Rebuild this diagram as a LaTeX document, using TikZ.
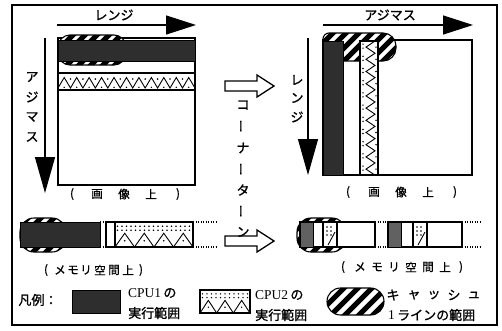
\documentclass[tikz,border=0pt]{standalone}
\usepackage{fontspec}
\setmainfont{Liberation Serif}
\newfontfamily\jp{Noto Sans CJK JP}[FakeBold=1.2]
\usetikzlibrary{arrows.meta}
\newcommand\jpf{\fontsize{13}{14}\selectfont\jp}
\newcommand\jps{\fontsize{11.5}{12}\selectfont\jp}
\newcommand\latf{\fontsize{13.5}{14}\selectfont\rmfamily}

\tikzset{
  frame/.style={line width=1.3pt},
  outline/.style={draw=black, line width=1.1pt},
  cpuone/.style={fill=black!82, draw=black, line width=1pt},
  cpuonelite/.style={fill=black!62, draw=black, line width=1pt},
  axisarrow/.style={line width=1.3pt, -{Triangle[length=30pt,width=19pt]}},
  axisarrowv/.style={line width=1.3pt, -{Triangle[length=36pt,width=20pt]}},
  hollow/.style={draw, line width=1.3pt, fill=white},
  jl/.style={font=\jpf, inner sep=0pt},
  js/.style={font=\jps, inner sep=0pt},
  dotline/.style={line width=1.2pt, dash pattern=on 1.3pt off 1.2pt},
  zz/.style={line width=0.9pt},
  stripe/.style={line width=5pt},
}

% cache line oval: options, path, c-start, c-next, c-end
\newcommand\cacheoval[5]{%
  \begin{scope}
    \clip[#1] #2;
    \fill[white] (-10,-10) rectangle (520,340);
    \foreach \c in {#3,#4,...,#5} \draw[stripe] (\c,0) -- ++(-340,340);
  \end{scope}
  \draw[#1, line width=1.1pt] #2;
}

% CPU2 block (horizontal): x0,y0,x1,y1,npeaks
\newcommand\cputwoblock[5]{%
  \draw[outline, fill=white] (#1,#2) rectangle (#3,#4);
  \pgfmathsetmacro\pp{(#3-#1)/#5}
  \pgfmathsetmacro\hh{#4-#2}
  \pgfmathtruncatemacro\nd{(#3-#1-5)/4.5}
  \foreach \k in {1,...,#5} {
    \draw[zz] ({#1+(\k-1)*\pp},#4) -- ({#1+(\k-0.5)*\pp},{#2+0.45*\hh}) -- ({#1+\k*\pp},#4);
    \fill ({#1+(\k-1)*\pp+0.5*\pp},{#2+0.75*\hh}) circle (0.8);
  }
  \foreach \r in {0.17,0.33} \foreach \j in {0,...,\nd}
    \fill ({#1+2.5+\j*4.5},{#2+\r*\hh}) circle (0.8);
}

\begin{document}
\begin{tikzpicture}[x=1pt,y=-1pt]
\useasboundingbox (0,0) rectangle (502,330);
\draw[frame] (12,5) rectangle (497,325);

% ---------------- left image ----------------
\draw[outline, fill=white] (58,38) rectangle (195,185);
\cacheoval{rounded corners=12pt}{(58,35) rectangle (126,65)}{60}{72}{220}
\draw[cpuone] (58,40) rectangle (195,61);
% CPU2 band
\draw[outline, fill=white] (58,73) rectangle (195,90);
\draw[zz] (58,88) \foreach \k in {0,...,10} { -- ({58+(\k+0.5)*12.45},77.5) -- ({58+(\k+1)*12.45},88)};
\foreach \k in {1,...,10} \fill ({58+\k*12.45},79) circle (0.9);
\foreach \k in {0,...,10} \fill ({58+(\k+0.5)*12.45},87.3) circle (0.8);

\coordinate (lh0) at (57,25);  \coordinate (lh1) at (196,25);
\draw[axisarrow] (lh0) -- (lh1);
\coordinate (lv0) at (45,38);  \coordinate (lv1) at (45,193);
\draw[axisarrowv] (lv0) -- (lv1);
\node[jl] (lrange) at (114,15) {レンジ};
\foreach \py/\ch [count=\i] in {77/ア,97/ジ,117/マ,137/ス}
  \node[jl] (laz\i) at (32,\py) {\ch};
\foreach \px/\ch [count=\i] in {72/(,97/画,124/像,151/上,178/)}
  \node[js] (lgz\i) at (\px,194) {\ch};

% ---------------- right image ----------------
\draw[outline, fill=white] (323,40) rectangle (472,175);
\cacheoval{}{(323,61) [rounded corners=6pt] -- (323,33) [rounded corners=13pt] -- (396,33) -- (396,61) [sharp corners] -- cycle}{340}{353}{480}
\draw[cpuone] (323,41) rectangle (343,175);
\draw[outline, fill=white] (360,41) rectangle (378,175);
\draw[zz] (375,41) \foreach \k in {0,...,10} { -- (366,{41+(\k+0.5)*12.2}) -- (375,{41+(\k+1)*12.2})};
\foreach \k in {0,...,10} {
  \fill (363,{41+(\k+0.5)*12.2-3}) circle (0.8);
  \fill (363,{41+(\k+0.5)*12.2+1}) circle (0.8);
  \fill (376,{41+(\k+0.5)*12.2}) circle (0.8);
}

\coordinate (rh0) at (323,25); \coordinate (rh1) at (473,25);
\draw[axisarrow] (rh0) -- (rh1);
\coordinate (rv0) at (308,38); \coordinate (rv1) at (308,175);
\draw[axisarrowv] (rv0) -- (rv1);
\node[jl] (raz) at (390,15) {アジマス};
\foreach \py/\ch [count=\i] in {80/レ,98/ン,117/ジ}
  \node[jl] (rrg\i) at (297,\py) {\ch};
\foreach \px/\ch [count=\i] in {348/(,374/画,401/像,428/上,455/)}
  \node[js] (rgz\i) at (\px,192) {\ch};

% ---------------- left memory bar ----------------
\cacheoval{rounded corners=14pt}{(20,218) rectangle (66,252)}{220}{233}{340}
\draw[cpuone] (20,222) rectangle (100,247);
\draw[dotline] (100,222) -- (106,222);
\draw[dotline] (100,247) -- (106,247);
\draw[outline, fill=white] (106,222) rectangle (193,247);
\cputwoblock{115}{222}{193}{247}{4}
\draw[dotline] (193,222) -- (216,222);
\draw[dotline] (193,247) -- (216,247);
\foreach \px/\ch [count=\i] in {46/(,60/メ,73/モ,86/リ,100/空,114/間,128/上,141/)}
  \node[js] (lmem\i) at (\px,270) {\ch};

% ---------------- right memory bar ----------------
\cacheoval{rounded corners=14pt}{(297,218) rectangle (346,252)}{500}{513}{620}
\draw[outline, fill=white] (300,222) rectangle (375,247);
\draw[cpuonelite] (300,222) rectangle (313,247);
\draw[outline, fill=white] (323,222) rectangle (337,247);
\foreach \yy in {227,231,235} { \fill (327,\yy) circle (0.8); \fill (331,\yy) circle (0.8); }
\draw[zz] (335,232) -- (328,245);
\draw[dotline] (375,222) -- (388,222);
\draw[dotline] (375,247) -- (388,247);
\draw[outline, fill=white] (388,222) rectangle (462,247);
\draw[cpuonelite] (388,222) rectangle (401,247);
\draw[outline, fill=white] (413,222) rectangle (427,247);
\foreach \yy in {227,231,235} { \fill (417,\yy) circle (0.8); \fill (421,\yy) circle (0.8); }
\draw[zz] (425,232) -- (418,245);
\draw[dotline] (462,222) -- (480,222);
\draw[dotline] (462,247) -- (480,247);
\foreach \px/\ch [count=\i] in {343/(,360/メ,377/モ,394/リ,411/空,428/間,445/上,461/)}
  \node[js] (rmem\i) at (\px,267) {\ch};

% ---------------- corner turn ----------------
\draw[hollow] (225,81) -- (257,81) -- (257,75) -- (274,86) -- (257,97) -- (257,91) -- (225,91) -- cycle;
\draw[hollow] (225,236) -- (257,236) -- (257,230) -- (274,241) -- (257,252) -- (257,246) -- (225,246) -- cycle;
\node[jl] (ct1) at (243,105) {コ};
\node[jl, rotate=90] (ct2) at (243,126) {ー};
\node[jl] (ct3) at (243,148) {ナ};
\node[jl, rotate=90] (ct4) at (243,169) {ー};
\node[jl] (ct5) at (243,190) {タ};
\node[jl, rotate=90] (ct6) at (243,211) {ー};
\node[jl] (ct7) at (243,232) {ン};

% ---------------- legend ----------------
\node[jl] (lgd) at (38,300) {凡例：};
\draw[cpuone] (72,290) rectangle (120,313);
\node[anchor=west, inner sep=0pt] (c1a) at (128,293) {\latf CPU1\,{\jpf の}};
\node[jl, anchor=west] (c1b) at (128,313) {実行範囲};
\cputwoblock{200}{290}{250}{313}{3}
\node[anchor=west, inner sep=0pt] (c2a) at (255,295) {\latf CPU2\,{\jpf の}};
\node[jl, anchor=west] (c2b) at (255,315) {実行範囲};
\cacheoval{rounded corners=13.5pt}{(327,288) rectangle (384,315)}{590}{604}{720}
\foreach \px/\ch [count=\i] in {393/キ,414/ャ,434/ッ,454/シ,474/ュ}
  \node[jl] (cs\i) at (\px,295) {\ch};
\node[anchor=west, inner sep=0pt] (cl) at (388,315) {\latf 1\,{\jpf ラインの範囲}};
\end{tikzpicture}
\end{document}
